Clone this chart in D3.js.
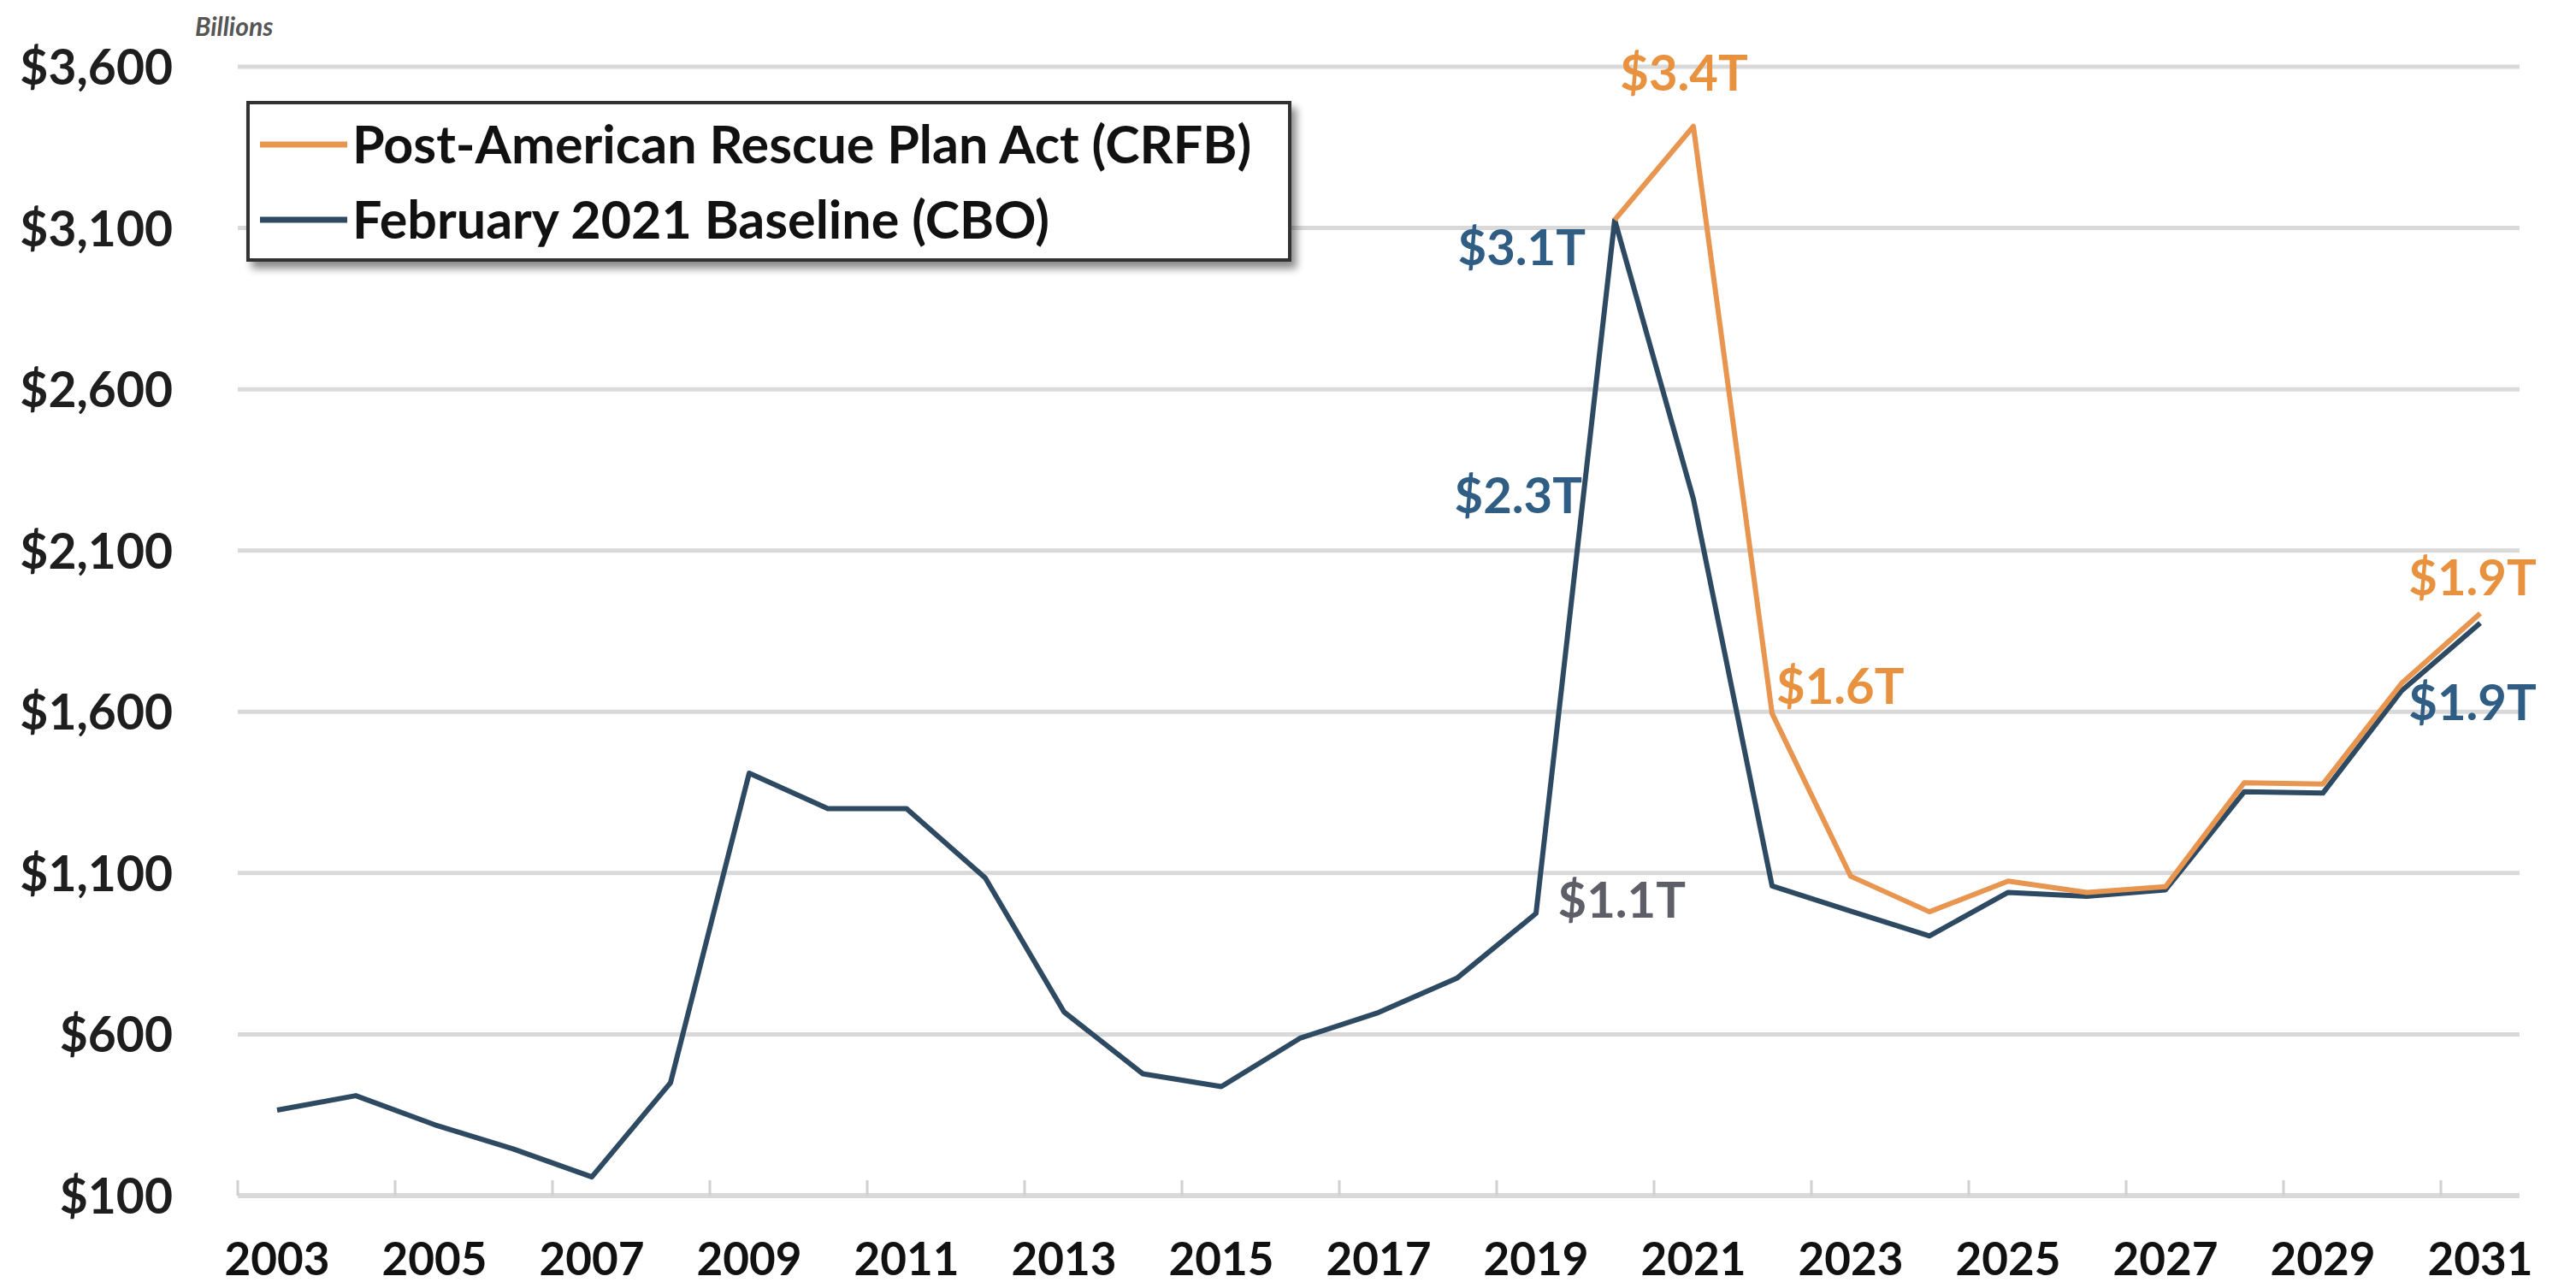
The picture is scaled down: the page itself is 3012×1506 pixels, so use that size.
<!DOCTYPE html>
<html>
<head>
<meta charset="utf-8">
<script src="https://cdn.jsdelivr.net/npm/d3@7"></script>
<style>
  html, body { margin: 0; padding: 0; background: #fff; }
  svg { display: block; }
  text { font-family: Lato, "Open Sans", sans-serif; font-weight: 700; }
</style>
</head>
<body>
<svg id="chart" width="3012" height="1506"></svg>
<script>
// kategori tahun
const years = [2003, 2004, 2005, 2006, 2007, 2008, 2009, 2010, 2011, 2012,
  2013, 2014, 2015, 2016, 2017, 2018, 2019, 2020, 2021, 2022,
  2023, 2024, 2025, 2026, 2027, 2028, 2029, 2030, 2031];

// February 2021 Baseline (CBO), miliar dolar
const cboValues = [365, 410, 320, 245, 158, 450, 1410, 1300, 1300, 1085,
  670, 478, 438, 588, 668, 775, 975, 3125, 2260, 1060,
  982, 905, 1040, 1028, 1048, 1352, 1348, 1665, 1875];

// Post-American Rescue Plan Act (CRFB), mulai 2020
const crfbValues = [null, null, null, null, null, null, null, null, null, null,
  null, null, null, null, null, null, null, 3125, 3415, 1595,
  1090, 980, 1075, 1040, 1058, 1380, 1376, 1688, 1905];

const yTicks = [100, 600, 1100, 1600, 2100, 2600, 3100, 3600];
const xTickLabels = [2003, 2005, 2007, 2009, 2011, 2013, 2015, 2017, 2019,
  2021, 2023, 2025, 2027, 2029, 2031];

const legendNames = ["Post-American Rescue Plan Act (CRFB)", "February 2021 Baseline (CBO)"];

// label anotasi: teks, tahun, seri
const notes = [
  { text: "$3.4T", year: 2021, series: "crfb" },
  { text: "$3.1T", year: 2020, series: "cbo" },
  { text: "$2.3T", year: 2021, series: "cbo" },
  { text: "$1.1T", year: 2022, series: "cbo" },
  { text: "$1.6T", year: 2022, series: "crfb" },
  { text: "$1.9T", year: 2031, series: "crfb" },
  { text: "$1.9T", year: 2031, series: "cbo" }
];

// posisi label relatif ke titik (gaya, bukan data)
const noteStyle = [
  { dx: -11, dy: -42, anchor: "middle", color: "#e8913f" },
  { dx: -34, dy: 53, anchor: "end", color: "#2f5d84" },
  { dx: -130, dy: 17, anchor: "end", color: "#2f5d84" },
  { dx: -101, dy: 37, anchor: "end", color: "#5e5e68" },
  { dx: 5, dy: -11, anchor: "start", color: "#e8913f" },
  { dx: -9, dy: -21, anchor: "middle", color: "#e8913f" },
  { dx: -9, dy: 113, anchor: "middle", color: "#2f5d84" }
];

const blue = "#2e4a62";
const orange = "#e8954f";

const svg = d3.select("#chart");

const x = d3.scaleBand().domain(years).range([278, 2946]).padding(0);
const y = d3.scaleLinear().domain([100, 3600]).range([1398, 78]);
const cx = d => x(d) + x.bandwidth() / 2;

// gridlines
svg.append("g")
  .selectAll("line")
  .data(yTicks.filter(d => d !== 100))
  .enter()
  .append("line")
  .attr("x1", 278).attr("x2", 2946)
  .attr("y1", d => y(d)).attr("y2", d => y(d))
  .attr("stroke", "#d9d9d9")
  .attr("stroke-width", 5);

// sumbu y
const yAxis = svg.append("g")
  .attr("transform", "translate(202,0)")
  .call(d3.axisLeft(y).tickValues(yTicks).tickSize(0).tickPadding(0)
    .tickFormat(d => "$" + d3.format(",")(d)));
yAxis.select(".domain").remove();
yAxis.selectAll("text")
  .attr("font-size", 57)
  .attr("fill", "#1e1e1e")
  .attr("dy", "0.36em");

// garis sumbu x + tick di batas kategori
svg.append("line")
  .attr("x1", 278).attr("x2", 2946)
  .attr("y1", y(100)).attr("y2", y(100))
  .attr("stroke", "#d9d9d9").attr("stroke-width", 6);

svg.append("g")
  .selectAll("line")
  .data(years.filter((d, i) => i % 2 === 0))
  .enter()
  .append("line")
  .attr("x1", d => x(d)).attr("x2", d => x(d))
  .attr("y1", y(100) - 18).attr("y2", y(100))
  .attr("stroke", "#d0d0d0").attr("stroke-width", 3);

const xAxis = svg.append("g")
  .attr("transform", `translate(0,${y(100)})`)
  .call(d3.axisBottom(x).tickValues(xTickLabels).tickSize(0).tickPadding(55));
xAxis.select(".domain").remove();
xAxis.selectAll("text")
  .attr("font-size", 53)
  .attr("fill", "#111");

// "Billions"
svg.append("text")
  .attr("x", 228).attr("y", 42)
  .attr("font-size", 30)
  .attr("font-style", "italic")
  .attr("fill", "#555")
  .text("Billions");

// garis data
const line = d3.line()
  .defined(d => d.v !== null)
  .x(d => cx(d.year))
  .y(d => y(d.v));

const cboData = years.map((yr, i) => ({ year: yr, v: cboValues[i] }));
const crfbData = years.map((yr, i) => ({ year: yr, v: crfbValues[i] }));

svg.append("path")
  .datum(cboData)
  .attr("d", line)
  .attr("fill", "none")
  .attr("stroke", blue)
  .attr("stroke-width", 6)
  .attr("stroke-linejoin", "round");

svg.append("path")
  .datum(crfbData)
  .attr("d", line)
  .attr("fill", "none")
  .attr("stroke", orange)
  .attr("stroke-width", 6)
  .attr("stroke-linejoin", "round");

// anotasi
const valueOf = n => {
  const i = years.indexOf(n.year);
  return n.series === "cbo" ? cboValues[i] : crfbValues[i];
};
svg.append("g")
  .selectAll("text")
  .data(notes)
  .enter()
  .append("text")
  .attr("x", (d, i) => cx(d.year) + noteStyle[i].dx)
  .attr("y", (d, i) => y(valueOf(d)) + noteStyle[i].dy)
  .attr("text-anchor", (d, i) => noteStyle[i].anchor)
  .attr("font-size", 58)
  .attr("fill", (d, i) => noteStyle[i].color)
  .text(d => d.text);

// legenda
const defs = svg.append("defs");
const f = defs.append("filter").attr("id", "shadow")
  .attr("x", "-5%").attr("y", "-10%").attr("width", "115%").attr("height", "130%");
f.append("feDropShadow")
  .attr("dx", 6).attr("dy", 8).attr("stdDeviation", 5)
  .attr("flood-color", "#000").attr("flood-opacity", 0.45);

const legend = svg.append("g").attr("transform", "translate(290,120)");
legend.append("rect")
  .attr("width", 1218).attr("height", 184)
  .attr("fill", "#fff")
  .attr("stroke", "#333")
  .attr("stroke-width", 4)
  .attr("filter", "url(#shadow)");

const legendColors = [orange, blue];
legendNames.forEach((name, i) => {
  const yy = 49 + i * 88;
  legend.append("line")
    .attr("x1", 14).attr("x2", 116)
    .attr("y1", yy).attr("y2", yy)
    .attr("stroke", legendColors[i])
    .attr("stroke-width", 7);
  legend.append("text")
    .attr("x", 122).attr("y", yy)
    .attr("dy", "0.36em")
    .attr("font-size", 61)
    .attr("fill", "#111")
    .text(name);
});
</script>
</body>
</html>
